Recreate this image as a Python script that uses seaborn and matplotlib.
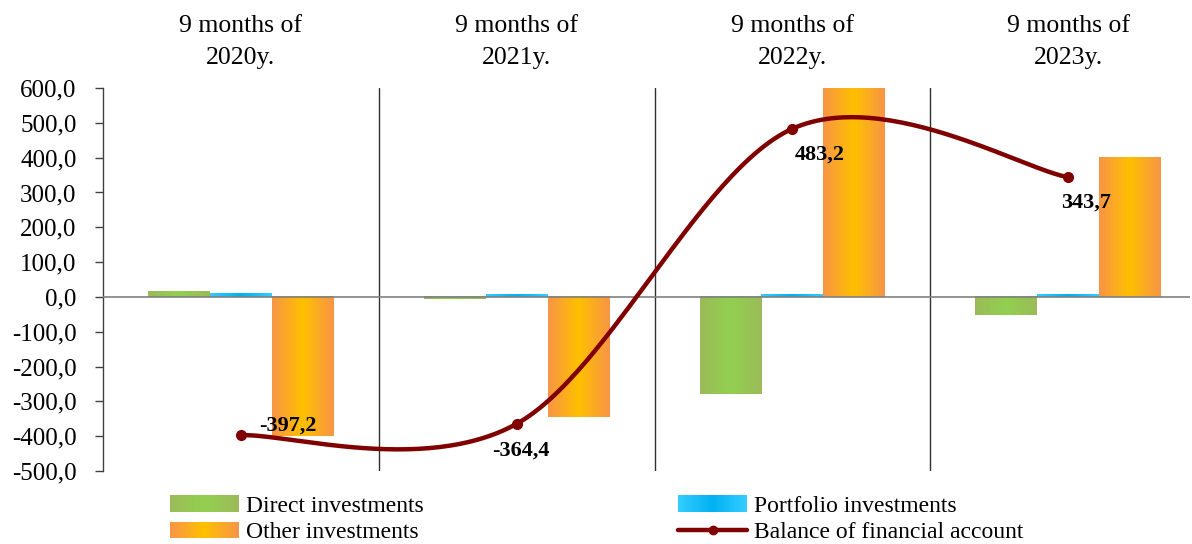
import numpy as np
import pandas as pd
import seaborn as sns
import matplotlib.pyplot as plt
import matplotlib.transforms as mtransforms
from matplotlib.patches import Rectangle
from matplotlib.lines import Line2D
from matplotlib.legend_handler import HandlerBase
from matplotlib.ticker import FuncFormatter, MultipleLocator

periods = ["9 months of\n2020y.", "9 months of\n2021y.", "9 months of\n2022y.", "9 months of\n2023y."]
direct = [15, -7, -280, -52]
portfolio = [9, 8, 8, 8]
other = [-400, -345, 755, 400]
balance = [-397.2, -364.4, 483.2, 343.7]
series_names = ["Direct investments", "Portfolio investments", "Other investments"]
line_name = "Balance of financial account"

# edge / middle colours of the horizontal gradient fills
grad_colors = {
    "Direct investments": ((155, 187, 89), (146, 208, 80)),
    "Portfolio investments": ((51, 204, 255), (0, 176, 240)),
    "Other investments": ((247, 150, 70), (255, 192, 0)),
}
line_color = "#800000"

df = pd.DataFrame({
    "period": periods * 3,
    "series": np.repeat(series_names, len(periods)),
    "value": direct + portfolio + other,
})


def gradient(edge, mid, n=64):
    edge = np.array(edge) / 255
    mid = np.array(mid) / 255
    s = np.linspace(0, 1, n)
    w = 1 - np.abs(s - 0.5) * 2
    return np.outer(1 - w, edge) + np.outer(w, mid)


def smooth(yv, n=60):
    # Excel-like smoothed line (Catmull-Rom through the points)
    xv = np.arange(len(yv), dtype=float)
    yv = np.asarray(yv, dtype=float)
    px = np.r_[xv[0], xv, xv[-1]]
    py = np.r_[yv[0], yv, yv[-1]]
    t = np.linspace(0, 1, n)
    h00 = 2 * t**3 - 3 * t**2 + 1
    h10 = t**3 - 2 * t**2 + t
    h01 = -2 * t**3 + 3 * t**2
    h11 = t**3 - t**2
    xs, ys = [], []
    for i in range(1, len(px) - 2):
        for p, out in ((px, xs), (py, ys)):
            m1 = (p[i + 1] - p[i - 1]) / 2
            m2 = (p[i + 2] - p[i]) / 2
            out.append(h00 * p[i] + h10 * m1 + h01 * p[i + 1] + h11 * m2)
    return np.concatenate(xs), np.concatenate(ys)


class GradHandle:
    def __init__(self, name):
        self.edge, self.mid = grad_colors[name]


class GradHandler(HandlerBase):
    def create_artists(self, legend, orig, xd, yd, width, height, fontsize, trans):
        n = 30
        cols = gradient(orig.edge, orig.mid, n)
        arts = []
        for i in range(n):
            arts.append(Rectangle((-xd + width * i / n, -yd), width / n * 1.08, height,
                                  facecolor=cols[i], edgecolor="none", transform=trans))
        return arts


sns.set_theme(style="white")
plt.rcParams["font.family"] = ["Liberation Serif", "DejaVu Serif"]
plt.rcParams["text.color"] = "black"
plt.rcParams["ytick.color"] = "black"

fig = plt.figure(figsize=(11.92, 5.44), dpi=100)
ax = fig.add_axes([0.0864, 0.1342, 0.9116, 0.704])

sns.barplot(data=df, x="period", y="value", hue="series", hue_order=series_names,
            width=0.674, errorbar=None, legend=False, saturation=1,
            palette=[np.array(grad_colors[s][1]) / 255 for s in series_names], ax=ax)

bars = list(ax.patches)
for i, bar in enumerate(bars):
    name = series_names[i // len(periods)]
    bb = bar.get_bbox()
    img = gradient(*grad_colors[name])[None, :, :]
    ax.imshow(img, extent=[bb.x0, bb.x1, bb.y0, bb.y1], aspect="auto",
              interpolation="bilinear", zorder=2)
    bar.set_visible(False)

xs, ys = smooth(balance)
ax.plot(xs, ys, color=line_color, lw=3.2, zorder=4, solid_capstyle="round")
ax.plot(range(len(balance)), balance, "o", color=line_color, ms=7, zorder=5)

offsets = [(47, 10), (4, -27), (27, -26), (18, -25)]
for i, (v, off) in enumerate(zip(balance, offsets)):
    ax.annotate(f"{v:.1f}".replace(".", ","), (i, v), xytext=off, textcoords="offset pixels",
                ha="center", va="center", fontsize=16, fontweight="bold", color="black", zorder=6)

ax.set_xlim(-0.5, 3.44)
ax.set_ylim(-500, 600)
ax.yaxis.set_major_locator(MultipleLocator(100))
ax.yaxis.set_major_formatter(FuncFormatter(lambda v, p: f"{v:.1f}".replace(".", ",")))
ax.tick_params(axis="y", left=True, length=6, width=1, color="#404040",
               labelcolor="black", labelsize=18, pad=13)
ax.set_xticks([])
ax.set_xlabel("")
ax.set_ylabel("")
for side in ["top", "right", "bottom"]:
    ax.spines[side].set_visible(False)
ax.spines["left"].set_color("#404040")
ax.spines["left"].set_linewidth(1)

ax.axhline(0, color="#808080", lw=1.2, zorder=3)
for xv in [0.5, 1.5, 2.5]:
    ax.axvline(xv, color="#303030", lw=1, zorder=1)

trans = mtransforms.blended_transform_factory(ax.transData, fig.transFigure)
for i, p in enumerate(periods):
    ax.text(i, 1 - 42 / 544, p, transform=trans, ha="center", va="center",
            fontsize=18.5, linespacing=1.62, color="black")

handles = [GradHandle("Direct investments"), GradHandle("Other investments"),
           GradHandle("Portfolio investments"),
           Line2D([], [], color=line_color, lw=3.2, marker="o", ms=6)]
labels = ["Direct investments", "Other investments", "Portfolio investments", line_name]
fig.legend(handles, labels, handler_map={GradHandle: GradHandler()},
           loc="upper left", bbox_to_anchor=(170 / 1192, 1 - 495 / 544), ncol=2,
           frameon=False, fontsize=17, handlelength=2.9, handleheight=0.7,
           handletextpad=0.3, labelspacing=0.22, columnspacing=10.8, borderpad=0,
           borderaxespad=0, labelcolor="black")

fig.savefig("out.png", dpi=100)
